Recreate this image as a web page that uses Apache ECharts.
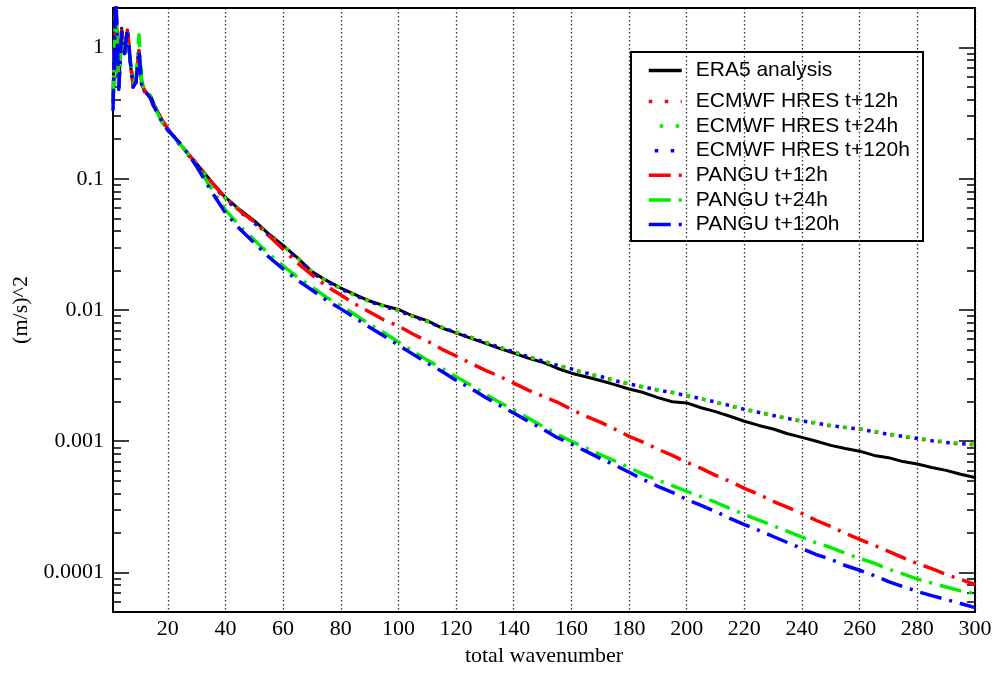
<!DOCTYPE html>
<html><head><meta charset="utf-8">
<script src="https://cdn.jsdelivr.net/npm/echarts@6/dist/echarts.min.js"></script>
<style>html,body{margin:0;padding:0;background:#fff}#c{width:999px;height:673px}</style>
</head><body><div id="c"></div>
<script>
const wavenumbers = [1,2,3,4,5,6,7,8,9,10,11,12,13,14,15,16,17,18,19,20,
 25,30,35,40,45,50,55,60,65,70,75,80,85,90,95,100,
 105,110,115,120,125,130,135,140,145,150,155,160,165,170,175,180,185,190,195,200,
 205,210,215,220,225,230,235,240,245,250,255,260,265,270,275,280,285,290,295,300];

const era5 = [0.38,2.3,0.5,1.4,0.9,1.35,0.75,0.52,0.55,0.95,0.52,0.47,0.44,0.43,0.38,0.34,0.31,0.28,0.26,0.24,
 0.175,0.13,0.096,0.072,0.058,0.048,0.038,0.031,0.025,0.0196,0.0168,0.0147,0.0131,0.0117,0.0108,0.0101,
 0.0090,0.0083,0.0073,0.0067,0.0061,0.0056,0.0051,0.0047,0.0043,0.0040,0.0036,0.0033,0.0031,0.0029,0.0027,0.0025,0.00235,0.00215,0.00200,0.00196,
 0.00180,0.00168,0.00155,0.00142,0.00132,0.00124,0.00114,0.00107,0.00100,0.00093,0.00088,0.00084,0.00078,0.00075,0.00070,0.00067,0.00063,0.00060,0.00056,0.00053];

const hres12 = [0.40,2.2,0.48,1.35,0.95,1.3,0.8,0.5,0.56,0.92,0.53,0.46,0.45,0.42,0.37,0.34,0.30,0.28,0.26,0.24,
 0.176,0.131,0.095,0.071,0.057,0.047,0.038,0.031,0.025,0.0195,0.0167,0.0146,0.0130,0.0117,0.0107,0.0100,
 0.0090,0.0082,0.0074,0.0067,0.0062,0.0057,0.0052,0.0048,0.0044,0.0041,0.0038,0.00355,0.0033,0.0031,0.0029,0.00272,0.00258,0.00245,0.00235,0.00222,
 0.00210,0.00198,0.00186,0.00175,0.00166,0.00157,0.00149,0.00142,0.00137,0.00131,0.00127,0.00124,0.00118,0.00113,0.00108,0.00105,0.00101,0.00098,0.00095,0.00094];

const hres24 = [0.36,2.1,0.52,1.3,0.9,1.4,0.78,0.53,0.55,0.9,0.5,0.47,0.44,0.43,0.38,0.33,0.31,0.28,0.25,0.24,
 0.175,0.129,0.094,0.071,0.057,0.047,0.037,0.031,0.025,0.0194,0.0166,0.0146,0.0129,0.0116,0.0107,0.0099,
 0.0089,0.0082,0.0074,0.0068,0.0062,0.0057,0.0052,0.0048,0.0044,0.0041,0.0038,0.00352,0.0033,0.0031,0.00292,0.00274,0.00260,0.00246,0.00236,0.00224,
 0.00211,0.00199,0.00187,0.00176,0.00167,0.00158,0.00150,0.00143,0.00138,0.00132,0.00128,0.00125,0.00119,0.00114,0.00109,0.00106,0.00102,0.00099,0.00096,0.00095];

const hres120 = [0.34,2.4,0.5,1.35,0.92,1.32,0.76,0.51,0.54,0.88,0.51,0.46,0.44,0.42,0.37,0.33,0.30,0.28,0.25,0.235,
 0.172,0.127,0.093,0.070,0.056,0.046,0.037,0.030,0.0245,0.0192,0.0165,0.0145,0.0129,0.0116,0.0106,0.0099,
 0.0089,0.0082,0.0073,0.0068,0.0061,0.0057,0.0052,0.0048,0.0044,0.0041,0.0038,0.00356,0.00332,0.00312,0.00290,0.00273,0.00259,0.00246,0.00234,0.00223,
 0.00211,0.00199,0.00187,0.00175,0.00166,0.00157,0.00149,0.00143,0.00137,0.00132,0.00127,0.00124,0.00118,0.00113,0.00109,0.00105,0.00101,0.00098,0.00096,0.00094];

const pangu12 = [0.4,2.2,0.5,1.38,0.9,1.36,0.8,0.5,0.55,0.95,0.52,0.47,0.44,0.42,0.37,0.34,0.31,0.28,0.26,0.24,
 0.175,0.13,0.095,0.071,0.057,0.047,0.037,0.029,0.0228,0.0185,0.0152,0.0130,0.0111,0.00966,0.00839,0.00755,
 0.00656,0.0058,0.00504,0.00446,0.00394,0.00348,0.00313,0.00277,0.00245,0.00221,0.00199,0.00175,0.00155,0.0014,0.00124,0.00109,0.00098,0.00087,0.00078,0.00069,
 0.000622,0.00055,0.000495,0.000438,0.000394,0.000348,0.000313,0.000282,0.000249,0.000224,0.000199,0.000179,0.000161,0.000145,0.00013,0.000117,0.000107,0.0000966,0.0000885,0.000081];

const pangu24 = [0.38,2.2,0.5,1.3,0.95,1.3,0.8,0.52,0.6,1.25,0.55,0.47,0.45,0.42,0.37,0.33,0.30,0.27,0.25,0.235,
 0.176,0.127,0.085,0.058,0.0436,0.0342,0.0268,0.0217,0.0178,0.0150,0.0125,0.0108,0.0092,0.0078,0.0067,0.0057,
 0.00486,0.00415,0.00360,0.00310,0.00268,0.00229,0.00198,0.00173,0.00150,0.00130,0.00113,0.00100,0.00089,0.00079,0.00071,0.00063,0.00056,0.000505,0.000460,0.000415,
 0.000378,0.000343,0.000307,0.000277,0.000251,0.000227,0.000206,0.000186,0.000168,0.000155,0.000140,0.000128,0.000118,0.000106,0.0000975,0.0000890,0.0000830,0.0000775,0.0000725,0.0000690];

const pangu120 = [0.33,2.5,0.48,1.3,0.9,1.38,0.78,0.5,0.55,0.95,0.5,0.46,0.44,0.41,0.36,0.33,0.30,0.27,0.25,0.235,
 0.179,0.124,0.081,0.055,0.0414,0.0325,0.0254,0.0206,0.0169,0.0142,0.0119,0.0102,0.0087,0.0074,0.00633,0.0054,
 0.00461,0.00394,0.00342,0.00292,0.00254,0.00217,0.00188,0.00164,0.00142,0.00124,0.00107,0.00095,0.00084,0.00074,0.00066,0.00058,0.00051,0.000453,0.000408,0.00036,
 0.000324,0.000292,0.000258,0.000232,0.000209,0.000188,0.000169,0.000152,0.000137,0.000126,0.000113,0.000104,0.0000948,0.0000853,0.0000781,0.0000716,0.0000667,0.0000622,0.000058,0.000054];

const xTicks = [20,40,60,80,100,120,140,160,180,200,220,240,260,280,300];
const yTicks = [0.0001,0.001,0.01,0.1,1];
const yTickLabels = ['0.0001','0.001','0.01','0.1','1'];

const Y_MIN = 5e-5, Y_MAX = 2;
const minorY = [];
for (let e = -5; e <= 0; e++) for (let m = 2; m <= 9; m++) {
  const v = m * Math.pow(10, e);
  if (v > Y_MIN * 1.001 && v < Y_MAX * 0.999) minorY.push(v);
}

const serif = 'Liberation Serif';
const sans = 'Liberation Sans';

function pairs(arr) { return wavenumbers.map((k, i) => [k, arr[i]]); }

const DOT = [3.5, 12.5];
const DASHDOT = [22, 8, 3, 8];
const seriesDefs = [
  {name: 'ERA5 analysis', data: era5, color: '#000000', type: 'solid', w: 3},
  {name: 'ECMWF HRES t+12h', data: hres12, color: '#ff0000', type: DOT, w: 3.5, off: 0},
  {name: 'ECMWF HRES t+24h', data: hres24, color: '#00ee00', type: DOT, w: 3.5, off: 5},
  {name: 'ECMWF HRES t+120h', data: hres120, color: '#0000ff', type: DOT, w: 3.5, off: 10},
  {name: 'PANGU t+12h', data: pangu12, color: '#ff0000', type: DASHDOT, w: 3.5, off: 0},
  {name: 'PANGU t+24h', data: pangu24, color: '#00ee00', type: DASHDOT, w: 3.5, off: 0},
  {name: 'PANGU t+120h', data: pangu120, color: '#0000ff', type: DASHDOT, w: 3.5, off: 0}
];

function yAxisBase(extra) {
  return Object.assign({
    type: 'log', logBase: 10, min: Y_MIN, max: Y_MAX, gridIndex: 0,
    splitLine: {show: false}, minorTick: {show: false}
  }, extra);
}

const labelFor = v => yTickLabels[Math.round(Math.log10(v)) + 4];

const legendCommon = {
  left: 642, orient: 'vertical',
  itemWidth: 33, itemHeight: 14, itemGap: 3.6,
  itemStyle: {opacity: 0, borderWidth: 0},
  lineStyle: {width: 3.5},
  textStyle: {fontFamily: sans, fontSize: 21, color: '#000', lineHeight: 20, padding: [0, 0, 0, 9]}
};

const chart = echarts.init(document.getElementById('c'), null, {renderer: 'canvas'});
chart.setOption({
  animation: false,
  backgroundColor: '#ffffff',
  grid: {left: 113, right: 24, top: 8, bottom: 61, containLabel: false},
  xAxis: [
    {
      type: 'value', min: 1, max: 300, position: 'bottom',
      name: 'total wavenumber', nameLocation: 'middle', nameGap: 31,
      nameTextStyle: {fontFamily: serif, fontSize: 22, color: '#000'},
      axisLine: {show: true, onZero: false, lineStyle: {color: '#000', width: 2}},
      axisTick: {show: false, customValues: xTicks},
      axisLabel: {customValues: xTicks, fontFamily: serif, fontSize: 22, color: '#000', margin: 6},
      splitLine: {show: true, lineStyle: {color: '#333', width: 1.3, type: [1.5, 2.5]}}
    },
    {
      type: 'value', min: 1, max: 300, position: 'top',
      axisLine: {show: true, onZero: false, lineStyle: {color: '#000', width: 2}},
      axisTick: {show: false}, axisLabel: {show: false}, splitLine: {show: false}
    }
  ],
  yAxis: [
    yAxisBase({
      position: 'left',
      name: '(m/s)^2', nameLocation: 'middle', nameGap: 78,
      nameTextStyle: {fontFamily: serif, fontSize: 22, color: '#000'},
      axisLine: {show: true, onZero: false, lineStyle: {color: '#000', width: 2}},
      axisTick: {show: true, inside: true, length: 16, customValues: yTicks, lineStyle: {color: '#000', width: 1.5}},
      axisLabel: {customValues: yTicks, formatter: labelFor, fontFamily: serif, fontSize: 22, color: '#000', margin: 9}
    }),
    yAxisBase({
      position: 'left',
      axisLine: {show: false},
      axisTick: {show: true, inside: true, length: 8, customValues: minorY, lineStyle: {color: '#000', width: 1.5}},
      axisLabel: {show: false}
    }),
    yAxisBase({
      position: 'right',
      axisLine: {show: true, onZero: false, lineStyle: {color: '#000', width: 2}},
      axisTick: {show: true, inside: true, length: 16, customValues: yTicks, lineStyle: {color: '#000', width: 1.5}},
      axisLabel: {show: false}
    }),
    yAxisBase({
      position: 'right',
      axisLine: {show: false},
      axisTick: {show: true, inside: true, length: 8, customValues: minorY, lineStyle: {color: '#000', width: 1.5}},
      axisLabel: {show: false}
    })
  ],
  legend: [
    Object.assign({data: ['ERA5 analysis'], top: 55}, legendCommon),
    Object.assign({data: seriesDefs.slice(1).map(s => s.name), top: 86}, legendCommon)
  ],
  graphic: [
    {type: 'rect', left: 630, top: 51, shape: {width: 292, height: 189}, z: 0,
     style: {fill: '#fff', stroke: '#000', lineWidth: 2}}
  ],
  series: seriesDefs.map(s => ({
    name: s.name, type: 'line', xAxisIndex: 0, yAxisIndex: 0,
    data: pairs(s.data), symbol: 'none', showSymbol: false, clip: true,
    color: s.color,
    lineStyle: {color: s.color, width: s.w, type: s.type, dashOffset: s.off || 0, cap: 'butt', join: 'round'},
    emphasis: {disabled: true}
  }))
});
</script>
</body></html>
